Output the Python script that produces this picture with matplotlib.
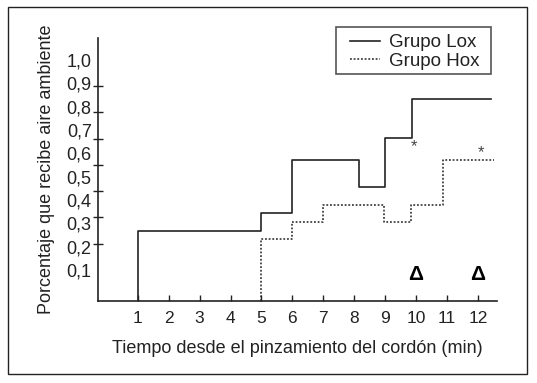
import matplotlib.pyplot as plt
import numpy as np
from matplotlib.patches import Rectangle

plt.rcParams['font.family'] = ['Liberation Sans', 'DejaVu Sans']

# step change times (min) and proportion held after each change
lox_time = [1, 5, 6, 8.14, 9, 9.85, 12.42]
lox_prop = [0.29, 0.364, 0.584, 0.473, 0.675, 0.839]
hox_time = [5, 6, 6.98, 8.96, 9.82, 10.87, 12.5]
hox_prop = [0.256, 0.327, 0.400, 0.327, 0.400, 0.584]

x_ticks = list(range(1, 13))
y_labels = ['0,1', '0,2', '0,3', '0,4', '0,5', '0,6', '0,7', '0,8', '0,9', '1,0']

# significance marks
star_x = [9.92, 12.11]
star_y = [0.640, 0.617]
delta_x = [9.97, 11.97]
delta_y = [0.108, 0.108]

ink = '#222222'

fig = plt.figure(figsize=(5.37, 3.83), dpi=100)
ax = fig.add_axes([0.1816, 0.2141, 0.7432, 0.6875])

def stairs(times, props):
    x = [times[0]] + times
    y = [0] + props + [props[-1]]
    return x, y

x, y = stairs(lox_time, lox_prop)
ax.step(x, y, where='post', color=ink, lw=1.2, label='Grupo Lox')
x, y = stairs(hox_time, hox_prop)
ax.step(x, y, where='post', color=ink, lw=1.1, ls=(0, (1.2, 1.2)), label='Grupo Hox')

for sx, sy in zip(star_x, star_y):
    ax.text(sx, sy, '*', ha='center', va='center', fontsize=12, color='#444444')
for dx, dy in zip(delta_x, delta_y):
    ax.text(dx, dy, 'Δ', ha='center', va='center', fontsize=15,
            fontweight='bold', color='black')

ax.set_xlim(-0.30, 12.6)
ax.set_ylim(0, 1.0925)

for s in ['top', 'right']:
    ax.spines[s].set_visible(False)
for s in ['left', 'bottom']:
    ax.spines[s].set_color(ink)
    ax.spines[s].set_linewidth(1.2)

ax.set_xticks(x_ticks)
ax.set_xticklabels([str(v) for v in x_ticks])
ax.tick_params(axis='x', direction='in', length=4, width=1, color=ink,
               pad=7, labelsize=12.5, labelcolor=ink)

# the labels and the tick marks in the original are not evenly matched
ax.set_yticks(np.linspace(0.1286, 1.0, 10))
ax.set_yticklabels(y_labels)
ax.set_yticks(np.linspace(0.1286, 1.0, 9), minor=True)
ax.tick_params(axis='y', which='major', length=0, pad=4.2,
               labelsize=13, labelcolor=ink)
ax.tick_params(axis='y', which='minor', direction='inout', length=7, width=1, color=ink)

ax.set_xlabel('Tiempo desde el pinzamiento del cordón (min)', fontsize=13,
              color=ink, labelpad=10)
ax.set_ylabel('Porcentaje que recibe aire ambiente', fontsize=13,
              color=ink, labelpad=8)

leg = ax.legend(loc='upper left', bbox_to_anchor=(0.6518, 0.9107),
                bbox_transform=fig.transFigure, fontsize=13.5, frameon=False,
                borderaxespad=0, borderpad=0, handlelength=1.6,
                handletextpad=0.5, labelspacing=0.08)
for t in leg.get_texts():
    t.set_color(ink)

# legend frame and outer border
fig.patches.append(Rectangle((336 / 537, 1 - 74.3 / 383), 154.7 / 537, 47.6 / 383,
                             transform=fig.transFigure, fill=False,
                             edgecolor='#555555', lw=1.2))
fig.patches.append(Rectangle((0.014, 0.0235), 0.9674, 0.957, transform=fig.transFigure,
                             fill=False, edgecolor=ink, lw=1))

fig.savefig('out.png', dpi=100)
